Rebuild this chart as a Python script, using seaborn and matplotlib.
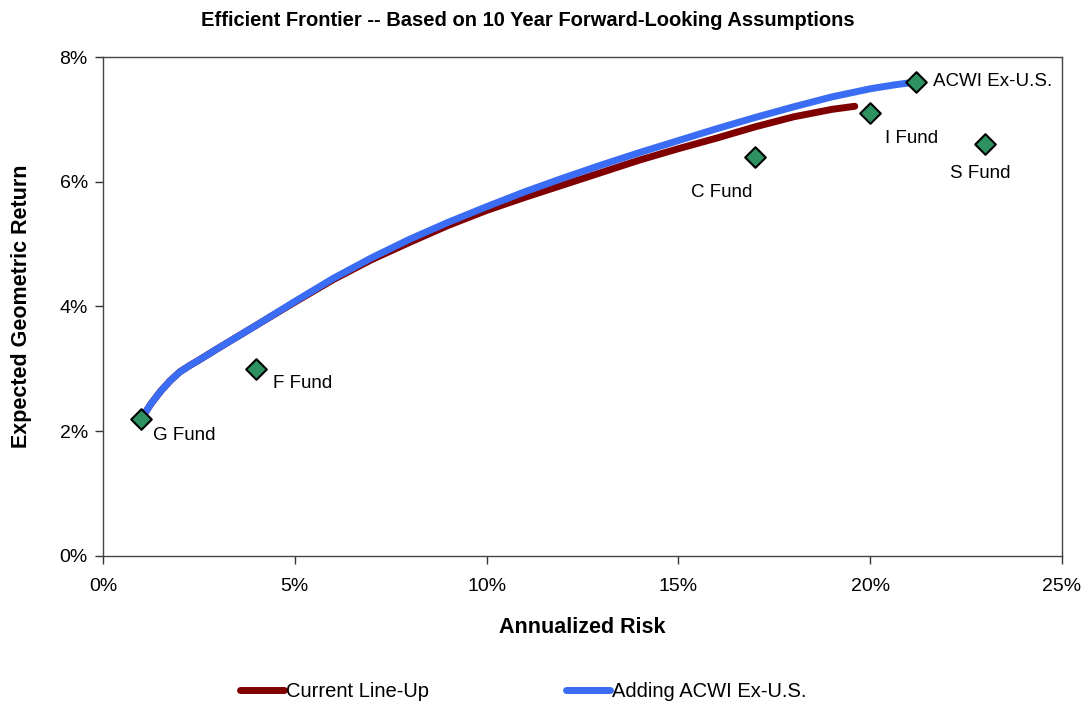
import matplotlib
matplotlib.use('Agg')
import matplotlib.pyplot as plt
import numpy as np
import pandas as pd
import seaborn as sns
from matplotlib.ticker import PercentFormatter

sns.set_style('white')
plt.rcParams['font.family'] = ['Liberation Sans', 'DejaVu Sans']

# frontier curves (risk %, return %)
current_risk = [1.0, 1.25, 1.5, 1.75, 2.0, 2.25, 2.5, 3.0, 4.0, 5.0, 6.0, 7.0,
                8.0, 9.0, 10.0, 11.0, 12.0, 13.0, 14.0, 15.0, 16.0, 17.0,
                18.0, 19.0, 19.6]
current_ret = [2.2, 2.44, 2.64, 2.81, 2.95, 3.05, 3.14, 3.33, 3.70, 4.07, 4.43,
               4.75, 5.03, 5.30, 5.54, 5.75, 5.95, 6.15, 6.35, 6.53, 6.70,
               6.88, 7.04, 7.16, 7.21]

acwi_risk = [1.0, 1.25, 1.5, 1.75, 2.0, 2.25, 2.5, 3.0, 4.0, 5.0, 6.0, 7.0,
             8.0, 9.0, 10.0, 11.0, 12.0, 13.0, 14.0, 15.0, 16.0, 17.0, 18.0,
             19.0, 20.0, 20.6, 21.2]
acwi_ret = [2.2, 2.44, 2.64, 2.81, 2.95, 3.05, 3.14, 3.33, 3.70, 4.08, 4.45,
            4.78, 5.08, 5.35, 5.60, 5.84, 6.06, 6.27, 6.47, 6.66, 6.85, 7.03,
            7.20, 7.36, 7.49, 7.55, 7.60]

funds = ['G Fund', 'F Fund', 'C Fund', 'I Fund', 'S Fund', 'ACWI Ex-U.S.']
fund_risk = [1.0, 4.0, 17.0, 20.0, 23.0, 21.2]
fund_ret = [2.2, 3.0, 6.4, 7.1, 6.6, 7.6]
# label offsets in pixels and alignment
label_pos = {
    'G Fund': (12, -17, 'left'),
    'F Fund': (17, -15, 'left'),
    'C Fund': (-33, -36, 'center'),
    'I Fund': (41, -25, 'center'),
    'S Fund': (-5, -29, 'center'),
    'ACWI Ex-U.S.': (17, 0, 'left'),
}

fig = plt.figure(figsize=(10.88, 7.02), dpi=100)
ax = fig.add_axes([0.0947, 0.208, 0.8813, 0.7108])

df_cur = pd.DataFrame({'risk': current_risk, 'ret': current_ret})
df_acwi = pd.DataFrame({'risk': acwi_risk, 'ret': acwi_ret})
sns.lineplot(data=df_cur, x='risk', y='ret', ax=ax, color='#800000',
             linewidth=5, sort=False, label='Current Line-Up',
             solid_capstyle='round', solid_joinstyle='round')
sns.lineplot(data=df_acwi, x='risk', y='ret', ax=ax, color='#3a6cf4',
             linewidth=5, sort=False, label='Adding ACWI Ex-U.S.',
             solid_capstyle='round', solid_joinstyle='round')

df_f = pd.DataFrame({'fund': funds, 'risk': fund_risk, 'ret': fund_ret})
sns.scatterplot(data=df_f, x='risk', y='ret', ax=ax, marker='D', s=110,
                color='#2e9160', edgecolor='black', linewidth=1.5,
                zorder=5, legend=False)

for name, xr, yr in zip(funds, fund_risk, fund_ret):
    dx, dy, ha = label_pos[name]
    ax.annotate(name, (xr, yr), xytext=(dx, dy), textcoords='offset pixels',
                ha=ha, va='center', fontsize=13.5, color='black')

ax.set_xlim(0, 25)
ax.set_ylim(0, 8)
ax.set_xticks(np.arange(0, 26, 5))
ax.set_yticks(np.arange(0, 9, 2))
ax.xaxis.set_major_formatter(PercentFormatter(decimals=0))
ax.yaxis.set_major_formatter(PercentFormatter(decimals=0))
ax.tick_params(axis='both', which='major', direction='out', length=6,
               width=1, color='#333333', labelsize=14, labelcolor='black',
               bottom=True, left=True, pad=5)
ax.tick_params(axis='x', pad=10)
for sp in ax.spines.values():
    sp.set_color('#444444')
    sp.set_linewidth(1)

ax.set_xlabel('Annualized Risk', fontsize=15.5, fontweight='bold',
              color='black', labelpad=16)
ax.set_ylabel('Expected Geometric Return', fontsize=15.5, fontweight='bold',
              color='black', labelpad=20)
fig.suptitle('Efficient Frontier -- Based on 10 Year Forward-Looking Assumptions',
             x=0.485, y=0.985, fontsize=14.5, fontweight='bold', color='black')

handles, labels = ax.get_legend_handles_labels()
ax.get_legend().remove()
leg = fig.legend(handles, labels, loc='center', ncol=2,
                 bbox_to_anchor=(0.481, 0.015), frameon=False,
                 prop={'size': 14.5}, labelcolor='black',
                 handlelength=2.2, handletextpad=0.1, columnspacing=6.8)

fig.savefig('out.png', dpi=100, facecolor='white')
